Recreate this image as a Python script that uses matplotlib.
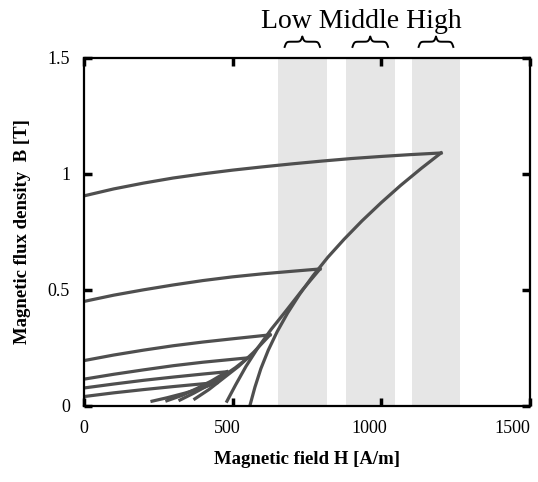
import numpy as np
import matplotlib
matplotlib.use("Agg")
import matplotlib.pyplot as plt
import matplotlib.transforms as mtransforms

# Frequency bands (H ranges) shaded in the chart
band_names = ["Low", "Middle", "High"]
band_lo = [652, 880, 1103]
band_hi = [817, 1046, 1265]

# Upper branches: from remanence at H=0 up to the loop tip
upper_H = [
    [0, 100, 200, 300, 400, 500, 600, 700, 800, 900, 1000, 1100, 1201],
    [0, 100, 200, 300, 400, 500, 600, 700, 794],
    [0, 100, 200, 300, 400, 500, 626],
    [0, 100, 200, 300, 400, 480, 552],
    [0, 100, 200, 300, 400, 481],
    [0, 100, 200, 300, 400, 447],
]
upper_B = [
    [0.905, 0.935, 0.96, 0.982, 1.0, 1.016, 1.03, 1.043, 1.055, 1.066, 1.075, 1.083, 1.09],
    [0.45, 0.477, 0.50, 0.521, 0.54, 0.556, 0.569, 0.58, 0.59],
    [0.195, 0.219, 0.24, 0.259, 0.275, 0.289, 0.306],
    [0.115, 0.136, 0.155, 0.173, 0.188, 0.198, 0.207],
    [0.077, 0.094, 0.11, 0.124, 0.137, 0.147],
    [0.04, 0.056, 0.07, 0.083, 0.095, 0.10],
]

# Lower branches: from near B=0 up to the loop tip
lower_H = [
    [558, 575, 595, 620, 650, 685, 725, 770, 820, 875, 935, 1000, 1065, 1135, 1201],
    [481, 510, 545, 585, 630, 680, 735, 794],
    [373, 420, 470, 520, 570, 626],
    [323, 370, 420, 470, 510, 552],
    [279, 330, 380, 430, 481],
    [229, 280, 340, 400, 447],
]
lower_B = [
    [0.0, 0.08, 0.16, 0.24, 0.32, 0.40, 0.48, 0.56, 0.64, 0.718, 0.797, 0.876, 0.95, 1.024, 1.09],
    [0.02, 0.09, 0.17, 0.25, 0.33, 0.41, 0.50, 0.59],
    [0.03, 0.07, 0.12, 0.17, 0.23, 0.306],
    [0.025, 0.055, 0.09, 0.13, 0.165, 0.207],
    [0.022, 0.045, 0.075, 0.108, 0.147],
    [0.02, 0.035, 0.055, 0.078, 0.10],
]

x_ticks = [0, 500, 1000, 1500]
y_ticks = [0, 0.5, 1, 1.5]
y_ticklabels = ["0", "0.5", "1", "1.5"]

line_color = "#4f4f4f"
serif = ["Liberation Serif", "DejaVu Serif"]

fig = plt.figure(figsize=(5.38, 4.82), dpi=100)
ax = fig.add_axes([0.156, 0.158, 0.829, 0.722])

for lo, hi in zip(band_lo, band_hi):
    ax.axvspan(lo, hi, color="#e6e6e6", lw=0, zorder=0)

for h, b in zip(upper_H, upper_B):
    ax.plot(h, b, color=line_color, lw=2.3, solid_joinstyle="round", zorder=2)
for h, b in zip(lower_H, lower_B):
    ax.plot(h, b, color=line_color, lw=2.3, solid_joinstyle="round", zorder=2)


def brace(ax, x0, x1, y0, height):
    # horizontal curly brace pointing up, spanning x0..x1
    n = 60
    t = np.linspace(0, 0.5, n)
    beta = 40.0
    half = 1 / (1 + np.exp(-beta * (t - t[0]))) + 1 / (1 + np.exp(-beta * (t - t[-1])))
    yy = np.concatenate([half, half[-2::-1]]) - 0.5
    xx = np.linspace(x0, x1, len(yy))
    ax.plot(xx, y0 + yy * height, color="black", lw=1.4, clip_on=False)


for lo, hi in zip(band_lo, band_hi):
    w = (hi - lo) * 0.72
    c = (lo + hi) / 2
    brace(ax, c - w / 2, c + w / 2, 1.547, 0.045)

fig.text(361 / 538, 1 - 22 / 482, " ".join(band_names), ha="center", va="center",
         fontsize=20, family=serif)

ax.set_xlim(0, 1500)
ax.set_ylim(0, 1.5)
ax.set_xticks(x_ticks)
ax.set_yticks(y_ticks)
ax.set_yticklabels(y_ticklabels)
ax.tick_params(direction="in", length=6, width=2.5, top=True, right=True,
               labelsize=13, pad=10)
for lab in ax.get_xticklabels() + ax.get_yticklabels():
    lab.set_family(serif)

# x tick labels in the original sit a bit left of their ticks
for val, lab in zip(x_ticks, ax.get_xticklabels()):
    shift = mtransforms.ScaledTranslation(-12.5 * val / 1500 / 72, 0, fig.dpi_scale_trans)
    lab.set_transform(lab.get_transform() + shift)

for s in ax.spines.values():
    s.set_linewidth(1.6)

ax.set_xlabel("Magnetic field H [A/m]", fontsize=13.5, fontweight="bold",
              family=serif, labelpad=10)
ax.set_ylabel("Magnetic flux density  B [T]", fontsize=13.5, fontweight="bold",
              family=serif, labelpad=12)

fig.savefig("out.png", dpi=100)
